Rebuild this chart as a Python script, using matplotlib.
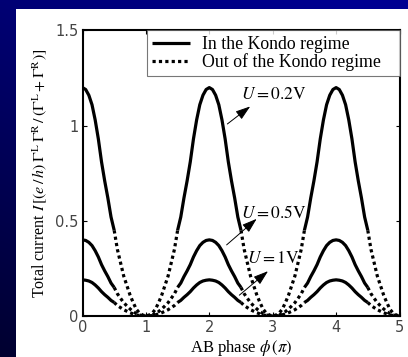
import matplotlib
matplotlib.use('Agg')
import matplotlib.pyplot as plt
import numpy as np
from matplotlib.patches import Rectangle

plt.rcParams['mathtext.fontset'] = 'stix'
plt.rcParams['font.family'] = 'Liberation Serif'

# half-period profiles, d = distance from nearest even phase (step 0.05)
d_step = 0.05
u02 = [1.20, 1.19, 1.16, 1.11, 1.03, 0.93, 0.81, 0.71, 0.62, 0.52, 0.45,
       0.35, 0.28, 0.21, 0.16, 0.11, 0.07, 0.035, 0.015, 0.005, 0.0]
u05 = [0.40, 0.397, 0.387, 0.37, 0.343, 0.31, 0.27, 0.237, 0.207, 0.173, 0.15,
       0.117, 0.093, 0.07, 0.053, 0.037, 0.023, 0.012, 0.005, 0.002, 0.0]
u1 = [0.19, 0.188, 0.184, 0.176, 0.163, 0.147, 0.128, 0.112, 0.098, 0.082, 0.071,
      0.055, 0.044, 0.033, 0.025, 0.017, 0.011, 0.006, 0.002, 0.001, 0.0]
curves = [u02, u05, u1]
labels = ['In the Kondo regime', 'Out of the Kondo regime']
xticks = [0, 1, 2, 3, 4, 5]
yticks = [0, 0.5, 1, 1.5]

W, H = 408, 357
fig = plt.figure(figsize=(W / 100, H / 100), dpi=100)

# blue slide background
bg = fig.add_axes([0, 0, 1, 1])
gy, gx = np.mgrid[0:1:200j, 0:1:200j]
shade = np.clip(0.15 + 0.85 * gy * 0.7 + 0.3 * gx, 0, 1)
img = np.zeros((200, 200, 3))
img[..., 2] = 0.12 + 0.45 * shade
bg.imshow(img, extent=[0, 1, 0, 1], aspect='auto', origin='lower')
bg.axis('off')
fig.patches.append(Rectangle((16 / W, 0), 1, 1 - 9 / H, transform=fig.transFigure,
                             facecolor='white', edgecolor='none', zorder=1))

ax = fig.add_axes([82.5 / W, (H - 316) / H, 317 / W, 285.5 / H])
ax.set_zorder(2)

phi = np.round(np.arange(0, 5 + 1e-9, d_step), 4)
d = np.abs(phi - 2 * np.round(phi / 2))
idx = np.round(d / d_step).astype(int)
for c in curves:
    vals = np.array(c)[idx]
    solid = np.where(d <= 0.5 + 1e-9, vals, np.nan)
    dotted = np.where(d >= 0.5 - 1e-9, vals, np.nan)
    l1, = ax.plot(phi, solid, color='black', lw=2.3, solid_capstyle='butt')
    l2, = ax.plot(phi, dotted, color='black', lw=2.3, linestyle=(0, (1, 1)))

leg_x0 = (147 - 82.5) / 317
leg = ax.legend([l1, l2], labels, loc='upper left', bbox_to_anchor=(leg_x0, 0, 1 - leg_x0, 1),
                mode='expand', fontsize=12.8, frameon=True,
                fancybox=False, edgecolor='#555555', borderaxespad=0, handlelength=2.1,
                handletextpad=0.7, borderpad=0.3, labelspacing=0.02)
leg.get_frame().set_linewidth(0.8)

ann = [(r'$U=0.2\mathrm{V}$', (2.50, 1.16), (2.25, 1.0), (2.68, 1.11)),
       (r'$U=0.5\mathrm{V}$', (2.50, 0.54), (2.24, 0.364), (2.78, 0.52)),
       (r'$U=1\mathrm{V}$', (2.60, 0.30), (2.44, 0.10), (2.96, 0.245))]
for txt, tpos, a0, a1 in ann:
    ax.text(tpos[0], tpos[1], txt, fontsize=12.5, va='center', ha='left')
    ax.annotate('', xy=a1, xytext=a0,
                arrowprops=dict(arrowstyle='-|>,head_length=0.9,head_width=0.3',
                                color='black', lw=0.7))

ax.set_xlim(0, 5)
ax.set_ylim(0, 1.5)
ax.set_xticks(xticks)
ax.set_yticks(yticks)
ax.set_xticklabels([str(t) for t in xticks], family='DejaVu Sans', fontsize=10.5, color='#444444')
ax.set_yticklabels(['0', '0.5', '1', '1.5'], family='DejaVu Sans', fontsize=10.5, color='#444444')
ax.tick_params(direction='in', length=3, width=0.8, top=True, right=True, pad=3)
for s in ax.spines.values():
    s.set_linewidth(1.5)

ax.set_xlabel(r'AB phase $\phi\,(\pi)$', fontsize=12, labelpad=2)
ax.set_ylabel(r'Total current $I\,[(e\,/\,h)\;\Gamma^{\rm L}\,\Gamma^{\rm R}\,/\,(\Gamma^{\rm L}+\Gamma^{\rm R})]$',
              fontsize=11.5, labelpad=4)

fig.savefig('out.png', dpi=100)
